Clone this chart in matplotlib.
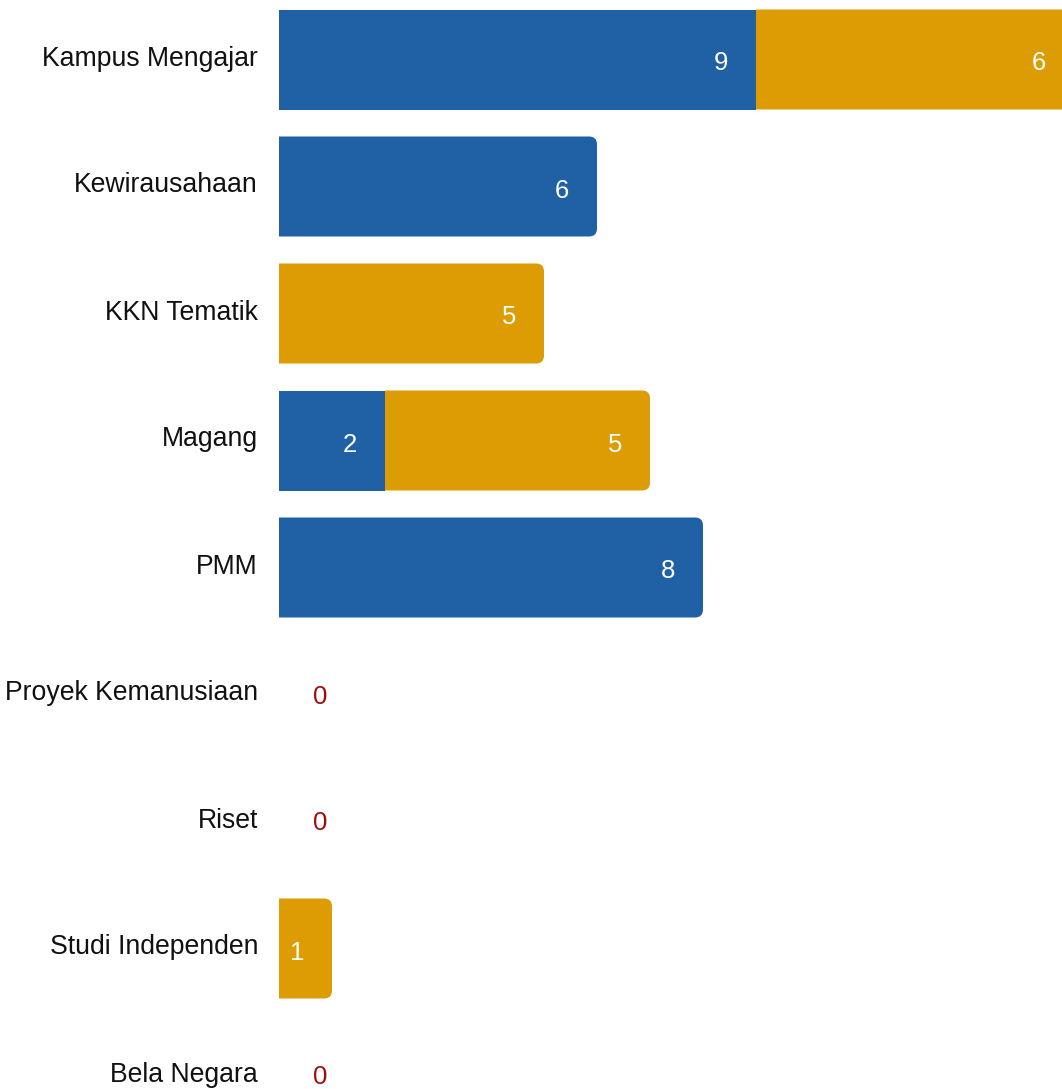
import matplotlib
matplotlib.use("Agg")
import matplotlib.pyplot as plt
import numpy as np
from matplotlib.path import Path
from matplotlib.patches import PathPatch

categories = ["Kampus Mengajar", "Kewirausahaan", "KKN Tematik", "Magang", "PMM",
              "Proyek Kemanusiaan", "Riset", "Studi Independen", "Bela Negara"]
blue_vals = [9, 6, 0, 2, 8, 0, 0, 0, 0]
orange_vals = [6, 0, 5, 5, 0, 0, 0, 1, 0]

BLUE = "#2061a6"
ORANGE = "#dd9c03"
ZERO_RED = "#a00c0c"

plt.rcParams['font.family'] = ['Liberation Sans', 'DejaVu Sans']

W, H = 1062, 1089
fig = plt.figure(figsize=(W / 100, H / 100), dpi=100)
left_px = 279
ax = fig.add_axes([left_px / W, 0, 1 - left_px / W, 1])

px_per_unit = 53.0
row_px = 127.0
first_center = 59.5
ax.set_xlim(0, (W - left_px) / px_per_unit)
ax.set_ylim((H - first_center) / row_px, -first_center / row_px)

bar_h = 100 / row_px

# corner radius of the bar ends (~8 px), in data units for each axis
rx = 8 / px_per_unit
ry = 8 / row_px


def rounded_end(x0, x1, yc, h, col):
    # bar with square left end and rounded right end
    y0, y1 = yc - h / 2, yc + h / 2
    verts = [(x0, y0), (x1 - rx, y0), (x1, y0), (x1, y0 + ry),
             (x1, y1 - ry), (x1, y1), (x1 - rx, y1), (x0, y1), (x0, y0)]
    codes = [Path.MOVETO, Path.LINETO, Path.CURVE3, Path.CURVE3,
             Path.LINETO, Path.CURVE3, Path.CURVE3, Path.LINETO, Path.CLOSEPOLY]
    ax.add_patch(PathPatch(Path(verts, codes), facecolor=col,
                           edgecolor="none", linewidth=0))


series = [(blue_vals, BLUE), (orange_vals, ORANGE)]
left = np.zeros(len(categories))
segments = []  # (row, start, width, color)
for vals, col in series:
    vals = np.array(vals, dtype=float)
    for i, v in enumerate(vals):
        if v > 0:
            segments.append((i, left[i], v, col))
    left += vals

totals = left
for i, start, width, col in segments:
    end = start + width
    if np.isclose(end, totals[i]):
        rounded_end(start, end, i, bar_h, col)
    else:
        ax.barh(i, width, left=start, height=bar_h, color=col, linewidth=0)
    ax.annotate(str(int(width)), (end, i), xytext=(-35, -4),
                textcoords="offset pixels", ha="center", va="center",
                color="white", fontsize=18.5, annotation_clip=False)

for i, tot in enumerate(totals):
    if tot == 0:
        ax.annotate("0", (0, i), xytext=(41, -2), textcoords="offset pixels",
                    ha="center", va="center", color=ZERO_RED, fontsize=18.5)

# category labels, right-aligned left of the bars
for i, name in enumerate(categories):
    ax.annotate(name, (0, i), xytext=(-21, 1), textcoords="offset pixels",
                ha="right", va="center", fontsize=19.2, color="#111111",
                annotation_clip=False)

ax.set_yticks([])
ax.set_xticks([])
for s in ax.spines.values():
    s.set_visible(False)

fig.savefig("out.png", dpi=100)
